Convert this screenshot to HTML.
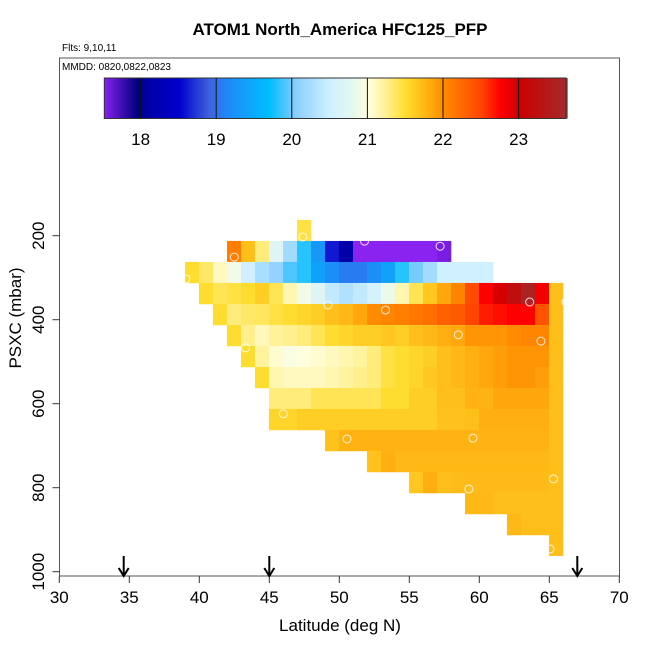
<!DOCTYPE html>
<html><head><meta charset="utf-8">
<style>
body{margin:0;background:#fff;}
svg{display:block;font-family:"Liberation Sans",Arial,sans-serif;}
</style></head>
<body>
<svg id="chart" width="650" height="650" viewBox="0 0 650 650">
<text x="340" y="35" text-anchor="middle" font-size="17" font-weight="bold">ATOM1 North_America HFC125_PFP</text>
<text x="62" y="51" font-size="10">Flts: 9,10,11</text>
<text x="62" y="70" font-size="10">MMDD: 0820,0822,0823</text>
<g id="cells"></g>
<g id="pts"></g>
<g id="cbar"></g>
<rect x="59.5" y="58" width="560" height="518" fill="none" stroke="#555" stroke-width="1"/>
<g id="axes"></g>
<text x="340" y="631" text-anchor="middle" font-size="17">Latitude (deg N)</text>
<text transform="translate(21,318) rotate(-90)" text-anchor="middle" font-size="17">PSXC (mbar)</text>
</svg>
<script>
const xTicks=[30,35,40,45,50,55,60,65,70];
const yTicks=[200,400,600,800,1000];
const cbTicks=[18,19,20,21,22,23];
const arrowLats=[34.6,45,67];
// heatmap rows: top pressure of row, first latitude, values
const rowTopP=[162.5,212.5,262.5,312.5,362.5,412.5,462.5,512.5,562.5,612.5,662.5,712.5,762.5,812.5,862.5];
const rowStartLat=[47,42,39,40,41,42,43,44,45,45,49,52,55,59,62];
const rowValues=[
[21.45],
[22.1,21.7,21.3,20.7,20.2,19.8,19.3,18.6,18.1,17.5,17.5,17.5,17.5,17.5,17.5,17.56],
[21.5,21.35,21.1,20.9,20.5,20.25,20.1,19.9,19.8,19.4,19.2,19.05,19.05,19.2,19.4,19.8,20.0,20.2,20.5,20.5,20.5,20.5],
[21.5,21.4,21.45,21.5,21.6,21.4,21.15,20.9,20.7,20.4,20.3,20.4,20.55,20.85,21.15,21.4,21.65,21.85,22.05,22.45,22.75,22.95,23.2,23.5,22.8],
[21.5,21.3,21.35,21.38,21.45,21.5,21.55,21.6,21.7,21.75,21.85,22.0,22.05,22.1,22.15,22.2,22.3,22.35,22.5,22.65,22.7,22.75,22.75,22.4],
[21.5,21.25,21.12,21.22,21.25,21.3,21.4,21.5,21.55,21.6,21.6,21.65,21.6,21.7,21.75,21.8,21.85,21.95,21.95,21.95,22.0,22.05,22.05],
[21.5,21.2,21.05,20.95,21.0,21.05,21.1,21.15,21.2,21.3,21.45,21.5,21.55,21.6,21.7,21.75,21.8,21.85,21.9,21.95,21.95,21.95],
[21.5,21.15,21.1,21.1,21.1,21.15,21.2,21.25,21.3,21.45,21.5,21.55,21.65,21.7,21.75,21.8,21.85,21.9,21.95,21.95,21.9],
[21.3,21.3,21.3,21.4,21.4,21.4,21.4,21.4,21.5,21.5,21.6,21.6,21.7,21.7,21.78,21.78,21.85,21.85,21.85,21.85],
[21.55,21.55,21.6,21.6,21.6,21.6,21.6,21.6,21.6,21.6,21.6,21.6,21.68,21.68,21.7,21.8,21.8,21.8,21.8,21.8],
[21.68,21.78,21.78,21.78,21.78,21.78,21.78,21.78,21.78,21.78,21.78,21.78,21.78,21.78,21.78,21.78],
[21.68,21.8,21.75,21.75,21.75,21.75,21.75,21.75,21.75,21.75,21.75,21.75,21.75],
[21.65,21.8,21.7,21.72,21.72,21.72,21.72,21.72,21.72,21.72],
[21.75,21.75,21.7,21.7,21.7,21.7],
[21.75,21.7,21.7]
];
const edgeColLat=65;
const edgeColTopP=312.5;
const edgeColBotP=962.5;
const edgeColValue=21.7;
const ptLat=[47.4,51.8,57.2,42.5,39.05,49.2,53.3,63.6,66.2,58.5,64.4,43.3,46.0,50.55,59.55,59.25,65.3,65.05];
const ptP=[203,213,225,251,303,365,377,358,358,436,451,467,624,684,682,803,779,946];

const NS='http://www.w3.org/2000/svg';
function xS(lat){return 59.3+(lat-30)*14;}
function yS(p){return 235.7+(p-200)*0.42;}
function cbX(v){return 104.3+(v-17.52)*75.6;}
const stops=[[17.5,'#8a22f0'],[17.95,'#000080'],[18.1,'#0000a8'],[18.5,'#0000cd'],[18.9,'#3e62dc'],[19.1,'#2284f6'],[19.7,'#00bfff'],[19.95,'#60c8ff'],[20.05,'#8ccfff'],[20.5,'#d0f0ff'],[20.8,'#e6f8ee'],[21.0,'#ffffe0'],[21.2,'#fff3a0'],[21.5,'#ffdd30'],[21.8,'#ffb010'],[22.0,'#ff8c00'],[22.5,'#ff4500'],[22.75,'#ff0000'],[23.0,'#cd0000'],[23.6,'#a52a2a']];
function hex2(c){return [1,3,5].map(i=>parseInt(c.substr(i,2),16));}
function col(v){
  if(v<=stops[0][0])return stops[0][1];
  for(let i=1;i<stops.length;i++){
    if(v<=stops[i][0]){
      const t=(v-stops[i-1][0])/(stops[i][0]-stops[i-1][0]);
      const a=hex2(stops[i-1][1]),b=hex2(stops[i][1]);
      return 'rgb('+a.map((x,k)=>Math.round(x+(b[k]-x)*t)).join(',')+')';
    }
  }
  return stops[stops.length-1][1];
}
function mk(tag,attrs,parent){const e=document.createElementNS(NS,tag);for(const k in attrs)e.setAttribute(k,attrs[k]);parent.appendChild(e);return e;}

const cells=document.getElementById('cells');
rowValues.forEach((vals,r)=>{
  const y0=yS(rowTopP[r]),y1=yS(rowTopP[r]+50);
  vals.forEach((v,i)=>{
    const lat=rowStartLat[r]+i;
    const e=mk('rect',{x:xS(lat)-0.3,y:y0,width:14.3,height:y1-y0+0.3,fill:col(v)},cells);
    
    
  });
});
{
  const e=mk('rect',{x:xS(edgeColLat)-0.3,y:yS(edgeColTopP),width:14.3,height:yS(edgeColBotP)-yS(edgeColTopP),fill:col(edgeColValue)},cells);
  
  
}
const pts=document.getElementById('pts');
ptLat.forEach((lat,i)=>{
  const e=mk('circle',{cx:xS(lat),cy:yS(ptP[i]),r:4,fill:'none',stroke:'#fff','stroke-opacity':0.85,'stroke-width':1},pts);
  
  
});
// colorbar
const cb=document.getElementById('cbar');
for(let v=17.52;v<23.62;v+=0.02){
  mk('rect',{x:cbX(v),y:78,width:2.2,height:40.5,fill:col(v)},cb);
}
mk('rect',{x:104.3,y:78,width:461.7,height:40.5,fill:'none',stroke:'#333','stroke-width':1},cb);
cbTicks.forEach(t=>{
  mk('line',{x1:cbX(t),x2:cbX(t),y1:78,y2:118.5,stroke:'#111','stroke-width':1},cb);
  const e=mk('text',{x:cbX(t),y:145,'text-anchor':'middle','font-size':17},cb);
  e.textContent=t;
  
  
});
// axes
const ax=document.getElementById('axes');
xTicks.forEach(t=>{
  mk('line',{x1:xS(t),x2:xS(t),y1:576,y2:583,stroke:'#333'},ax);
  const e=mk('text',{x:xS(t),y:603,'text-anchor':'middle','font-size':17},ax);
  e.textContent=t;
  
  
});
yTicks.forEach(t=>{
  mk('line',{x1:52.5,x2:59.5,y1:yS(t),y2:yS(t),stroke:'#333'},ax);
  const e=mk('text',{transform:'translate(44,'+yS(t)+') rotate(-90)','text-anchor':'middle','font-size':17},ax);
  e.textContent=t;
  
  
});
arrowLats.forEach(l=>{
  const x=xS(l);
  const g=mk('g',{},ax);
  
  
  mk('line',{x1:x,x2:x,y1:556,y2:576,stroke:'#000','stroke-width':2},g);
  mk('polyline',{points:(x-5)+',568 '+x+',576 '+(x+5)+',568',fill:'none',stroke:'#000','stroke-width':2},g);
});
</script>
</body></html>
